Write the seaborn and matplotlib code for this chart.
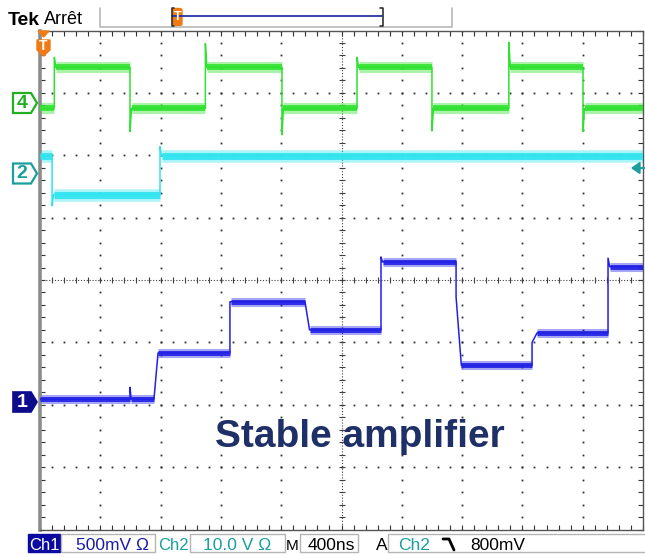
import numpy as np
import pandas as pd
import matplotlib
matplotlib.use("Agg")
import matplotlib.pyplot as plt
from matplotlib.patches import Polygon, Rectangle, FancyBboxPatch
import seaborn as sns

# ---------------- data (time in ns, vertical position in screen divisions) ----------------
T_END = 4000  # 10 divisions x 400 ns

ch4_start = 2.75
ch4_edges = [95, 597, 1097, 1605, 2103, 2600, 3110, 3602]
ch4_levels = [3.41, 2.75, 3.41, 2.75, 3.41, 2.75, 3.41, 2.75]
ch4_vias = [3.57, 2.38, 3.79, 2.33, 3.57, 2.39, 3.81, 2.38]
ch4_durs = [10, 10, 10, 10, 10, 10, 10, 10]

ch2_start = 1.99
ch2_edges = [80, 796]
ch2_levels = [1.37, 1.99]
ch2_vias = [1.19, 2.14]
ch2_durs = [10, 10]

ch1_start = -1.91
ch1_edges = [597, 756, 1260, 1758, 2262, 2760, 3264, 3768]
ch1_levels = [-1.91, -1.17, -0.35, -0.80, 0.29, -1.37, -0.85, 0.21]
ch1_vias = [-1.72, -1.91, -0.35, -0.35, 0.37, -0.27, -1.00, 0.35]
ch1_durs = [8, 27, 8, 30, 10, 35, 33, 12]

channel_names = ["CH4", "CH2", "CH1"]
channel_colors = {"CH4": "#2fe22f", "CH2": "#2fe4ef", "CH1": "#2121e6"}

bar_labels = ["Ch1", "500mV \u03a9", "Ch2", "10.0 V \u03a9", "M", "400ns", "A", "Ch2", "800mV"]
title_text = "Stable amplifier"


def build(start, edges, levels, vias, durs):
    t, v = [0], [start]
    prev = start
    for e, L, p, d in zip(edges, levels, vias, durs):
        t += [e, e, e + d]
        v += [prev, p, L]
        prev = L
    t.append(T_END)
    v.append(prev)
    return t, v


def plateaus(start, edges, levels, durs):
    segs = []
    s0, lev = 0, start
    for e, L, d in zip(edges, levels, durs):
        segs.append((s0, e, lev))
        s0, lev = e + d, L
    segs.append((s0, T_END, lev))
    return segs


traces = {
    "CH4": (ch4_start, ch4_edges, ch4_levels, ch4_vias, ch4_durs),
    "CH2": (ch2_start, ch2_edges, ch2_levels, ch2_vias, ch2_durs),
    "CH1": (ch1_start, ch1_edges, ch1_levels, ch1_vias, ch1_durs),
}

rows = []
for name in channel_names:
    t, v = build(*traces[name])
    for a, b in zip(t, v):
        rows.append({"ch": name, "t": a, "v": b})
df = pd.DataFrame(rows)

# ---------------- fonts ----------------
sns.set_style("white")
FONT = ["Liberation Sans", "DejaVu Sans"]
plt.rcParams["font.family"] = FONT

W, H = 645, 557
fig = plt.figure(figsize=(W / 100, H / 100), dpi=100)
fig.patch.set_facecolor("white")

# graticule region in pixels
L_PX, R_PX, T_PX, B_PX = 40, 643, 30.5, 529.5
ax = fig.add_axes([L_PX / W, 1 - B_PX / H, (R_PX - L_PX) / W, (B_PX - T_PX) / H])
ax.set_facecolor("white")
ax.set_xlim(0, T_END)
ax.set_ylim(-4, 4)

# graticule dots
div = 400
dot_kw = dict(ls="none", marker="s", ms=1.3, color="#303030", mew=0, zorder=1)
yy = np.arange(-4, 4.001, 0.2)
xx = np.arange(0, T_END + 1, div / 5)
for k in range(1, 10):
    if k == 5:
        continue
    ax.plot(np.full_like(yy, k * div), yy, **dot_kw)
for j in range(-3, 4):
    if j == 0:
        continue
    ax.plot(xx, np.full_like(xx, j), **dot_kw)
# center crosshair
ax.axhline(0, color="#404040", lw=0.8, ls=(0, (1, 1.6)), zorder=1)
ax.axvline(2000, color="#404040", lw=0.8, ls=(0, (1, 1.6)), zorder=1)
ax.plot(xx, np.zeros_like(xx), ls="none", marker="|", ms=5, mew=0.8, color="#404040", zorder=1)
ax.plot(np.full_like(yy, 2000), yy, ls="none", marker="_", ms=5, mew=0.8, color="#404040", zorder=1)

# border ticks
ax.set_xticks(np.arange(0, T_END + 1, div))
ax.set_xticks(xx, minor=True)
ax.set_yticks(np.arange(-4, 5, 1))
ax.set_yticks(yy, minor=True)
ax.tick_params(which="both", direction="in", top=True, bottom=True, left=True, right=True,
               labelbottom=False, labelleft=False, length=3.5, width=0.8, color="#333333")
for s in ["top", "bottom", "right"]:
    ax.spines[s].set_color("#555555")
    ax.spines[s].set_linewidth(1.0)
    ax.spines[s].set_linestyle((0, (1, 1)))
ax.spines["left"].set_color("#8c8c8c")
ax.spines["left"].set_linewidth(2.6)

# noisy plateau bands
band_w = {"CH4": (8.0, 4.2), "CH2": (9.0, 5.0), "CH1": (6.5, 3.6)}
for name in channel_names:
    start, edges, levels, vias, durs = traces[name]
    c = channel_colors[name]
    wide, core = band_w[name]
    for a, b, lev in plateaus(start, edges, levels, durs):
        ax.hlines(lev, a, b, colors=c, lw=wide, alpha=0.4, zorder=2, capstyle="butt")
        ax.hlines(lev, a, b, colors=c, lw=core, alpha=0.9, zorder=3, capstyle="butt")

# traces
sns.lineplot(data=df, x="t", y="v", hue="ch", palette=channel_colors, estimator=None,
             sort=False, units="ch", legend=False, lw=1.1, ax=ax, zorder=4)
ax.set_xlabel("")
ax.set_ylabel("")

ax.text(0.531, 0.165, title_text, transform=ax.transAxes, ha="center", va="baseline",
        fontsize=28, fontweight="bold", color="#1f2f68", family=FONT, zorder=6)

# ---------------- overlay in pixel coordinates ----------------
ov = fig.add_axes([0, 0, 1, 1], zorder=10)
ov.set_xlim(0, W)
ov.set_ylim(H, 0)
ov.axis("off")
ov.patch.set_alpha(0)

ORANGE = "#f07b16"
TEAL = "#1a9e9e"
GREEN = "#22b022"
NAVY = "#0c0c8c"

# header
ov.text(8, 25, "Tek", fontsize=14, fontweight="bold", family=FONT,
        va="baseline", ha="left", color="black")
ov.text(44, 24.5, "Arr\u00eat", fontsize=13, family=FONT,
        va="baseline", ha="left", color="black")
ov.plot([100, 100, 452, 452], [8, 27, 27, 8], color="#b8b8b8", lw=1.2)
ov.plot([172, 382], [16, 16], color="#2435a8", lw=1.3)
ov.plot([174, 171.5, 171.5, 174], [8, 8, 26, 26], color="#222222", lw=1.1)
ov.plot([380, 382.5, 382.5, 380], [8, 8, 26, 26], color="#222222", lw=1.1)
ov.add_patch(FancyBboxPatch((173.5, 9), 8, 16, boxstyle="round,pad=0.5,rounding_size=2",
                            fc=ORANGE, ec=ORANGE))
ov.text(177.5, 17, "T", color="white", fontsize=9, fontweight="bold", ha="center", va="center")

# trigger marker top-left
ov.add_patch(Polygon([[38, 31], [49, 31], [43.5, 37]], closed=True, fc=ORANGE, ec=ORANGE))
ov.add_patch(Polygon([[37, 40], [50, 40], [50, 50], [43.5, 56], [37, 50]], closed=True,
                     fc=ORANGE, ec=ORANGE, joinstyle="round"))
ov.text(43.5, 46.5, "T", color="white", fontsize=10, fontweight="bold", ha="center", va="center")


def chan_marker(yc, label, color, filled):
    pts = [[13, yc - 10], [31, yc - 10], [37, yc], [31, yc + 10], [13, yc + 10]]
    if filled:
        ov.add_patch(Polygon(pts, closed=True, fc=color, ec=color, lw=1.2))
        tc = "white"
    else:
        ov.add_patch(Polygon(pts, closed=True, fc="white", ec=color, lw=1.6))
        tc = color
    ov.text(22, yc + 0.5, label, color=tc, fontsize=14, fontweight="bold",
            family=FONT, ha="center", va="center")


chan_marker(103, "4", GREEN, False)
chan_marker(173.5, "2", TEAL, False)
chan_marker(402, "1", NAVY, True)

# right-side ch2 arrow
ov.add_patch(Polygon([[632, 168], [640, 162.5], [640, 173.5]], closed=True, fc=TEAL, ec=TEAL))
ov.plot([638, 645], [168, 168], color=TEAL, lw=1.5)

# bottom status bar
bf = dict(fontsize=12.5, family=FONT, va="baseline", ha="left")
ov.add_patch(Rectangle((28, 534), 32, 18, fc="#0a0aa0", ec="#0a0aa0"))
ov.text(44, 549.5, bar_labels[0], color="white", **{**bf, "ha": "center", "fontsize": 12})
ov.add_patch(Rectangle((61, 534), 94, 18, fc="none", ec="#b5b5b5", lw=1))
ov.text(76, 549.5, bar_labels[1], color="#1a1aa8", **bf)
ov.text(173, 549.5, bar_labels[2], color=TEAL, **{**bf, "ha": "center", "fontsize": 12})
ov.add_patch(Rectangle((190, 534), 95, 18, fc="none", ec="#b5b5b5", lw=1))
ov.text(203, 549.5, bar_labels[3], color=TEAL, **bf)
ov.text(292, 549.5, bar_labels[4], color="black", **{**bf, "ha": "center", "fontsize": 11})
ov.add_patch(Rectangle((300, 534), 58, 18, fc="none", ec="#b5b5b5", lw=1))
ov.text(308, 549.5, bar_labels[5], color="black", **bf)
ov.text(376, 549.5, bar_labels[6], color="black", **bf)
ov.add_patch(Rectangle((388, 534), 270, 18, fc="none", ec="#b5b5b5", lw=1))
ov.text(398, 549.5, bar_labels[7], color=TEAL, **bf)
ov.plot([443, 449, 454], [539, 539, 550], color="black", lw=2)
ov.text(470, 549.5, bar_labels[8], color="black", **bf)

fig.savefig("out.png", dpi=100, facecolor="white")
